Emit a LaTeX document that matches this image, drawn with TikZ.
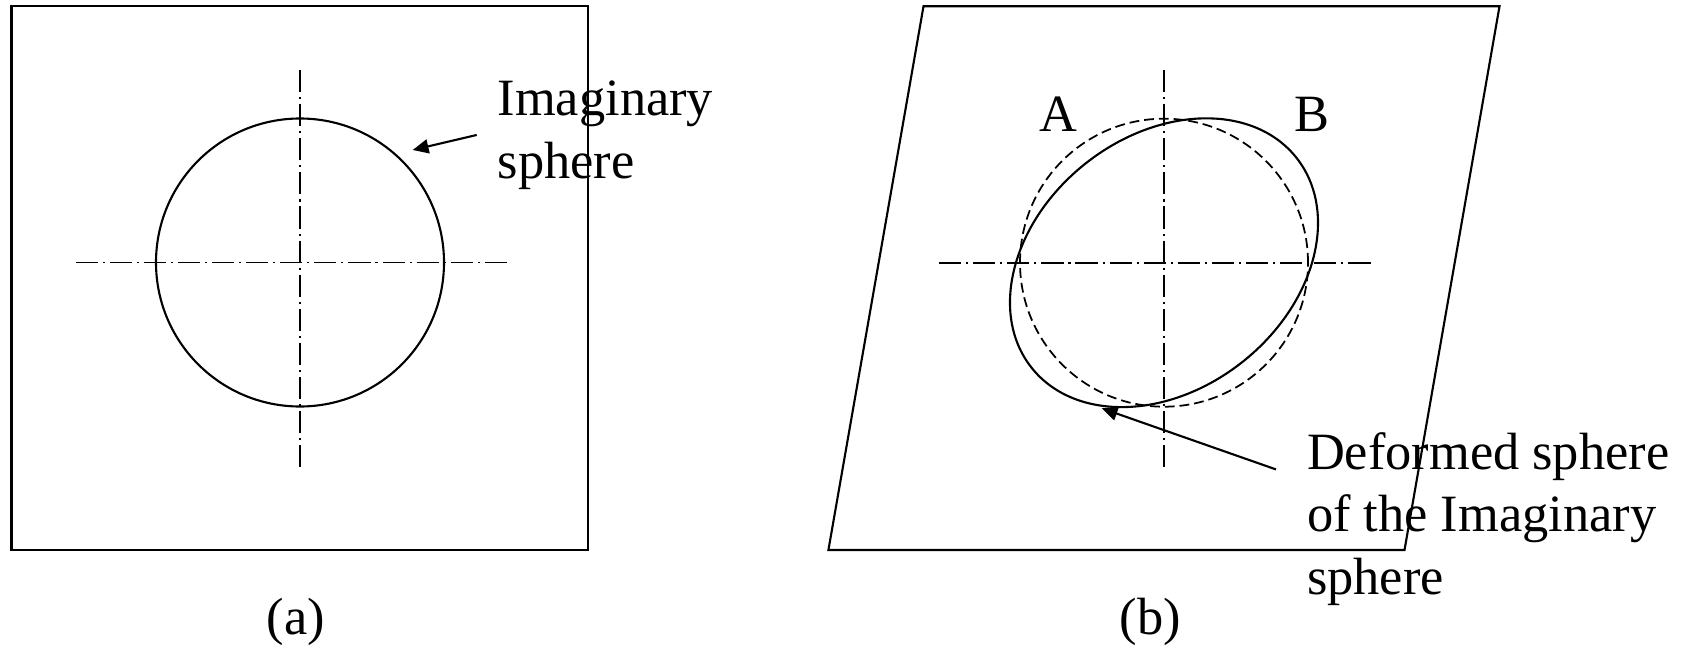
\documentclass[tikz,border=0pt]{standalone}
\usepackage{fontspec}
\setmainfont{Liberation Serif}
\usetikzlibrary{arrows.meta}
\tikzset{axisline/.style = {line width=.55pt, dash pattern=on 6.3pt off 1.4pt on .6pt off 1.4pt},
  lbl/.style = {font=\fontsize{14.9}{17.8}\selectfont, inner sep=0pt, align=left}}

\begin{document}
\begin{tikzpicture}[x=.01cm, y=.01cm, line width=.6pt, >={Triangle[length=4.5pt,width=4pt]}]
  \useasboundingbox (0,0) rectangle (1697,657);
  % (a) undeformed
  \coordinate (ca) at (300,394.5);
  \coordinate (tipa) at (412.7,507);
  \draw (11.5,107) rectangle (587.7,650.7);
  \draw (ca) circle [radius=144];
  \draw [axisline] (300,587) -- (300,186) (75.5,394.5) -- (508.5,394.5);
  \node [lbl, anchor=base west] (imag) at (496.7,478.7) {Imaginary\\sphere};
  \draw [->] ([xshift=-.2cm, yshift=.433cm]imag.base west) -- (tipa);
  \node [lbl, anchor=base] (capa) at (296,23) {(a)};
  % (b) sheared
  \coordinate (cb) at (1164,394.3);
  \coordinate (tipb) at (1101.7,248.7);
  \draw (828.4,107) -- (1404.5,107) -- (1499.5,650.7) -- (923.5,650.7) -- cycle;
  \draw [axisline] (1164,587) -- (1164,186) (939,394.3) -- (1373.7,394.3);
  \draw [line width=.5pt, dash pattern=on 2.8pt off 1.4pt] (cb) circle [radius=144];
  \draw [rotate around={38.4:(cb)}] (cb) ellipse [x radius=169, y radius=126.5];
  \node [lbl, anchor=base] (ptA) at (1058,525.3) {A};
  \node [lbl, anchor=base] (ptB) at (1312,525.3) {B};
  \node [lbl, anchor=base west] (deform) at (1306,62.7) {Deformed sphere\\of the Imaginary\\sphere};
  \draw [->] ([xshift=-.3cm, yshift=1.248cm]deform.base west) -- (tipb);
  \node [lbl, anchor=base] (capb) at (1150.5,23) {(b)};
\end{tikzpicture}
\end{document}
